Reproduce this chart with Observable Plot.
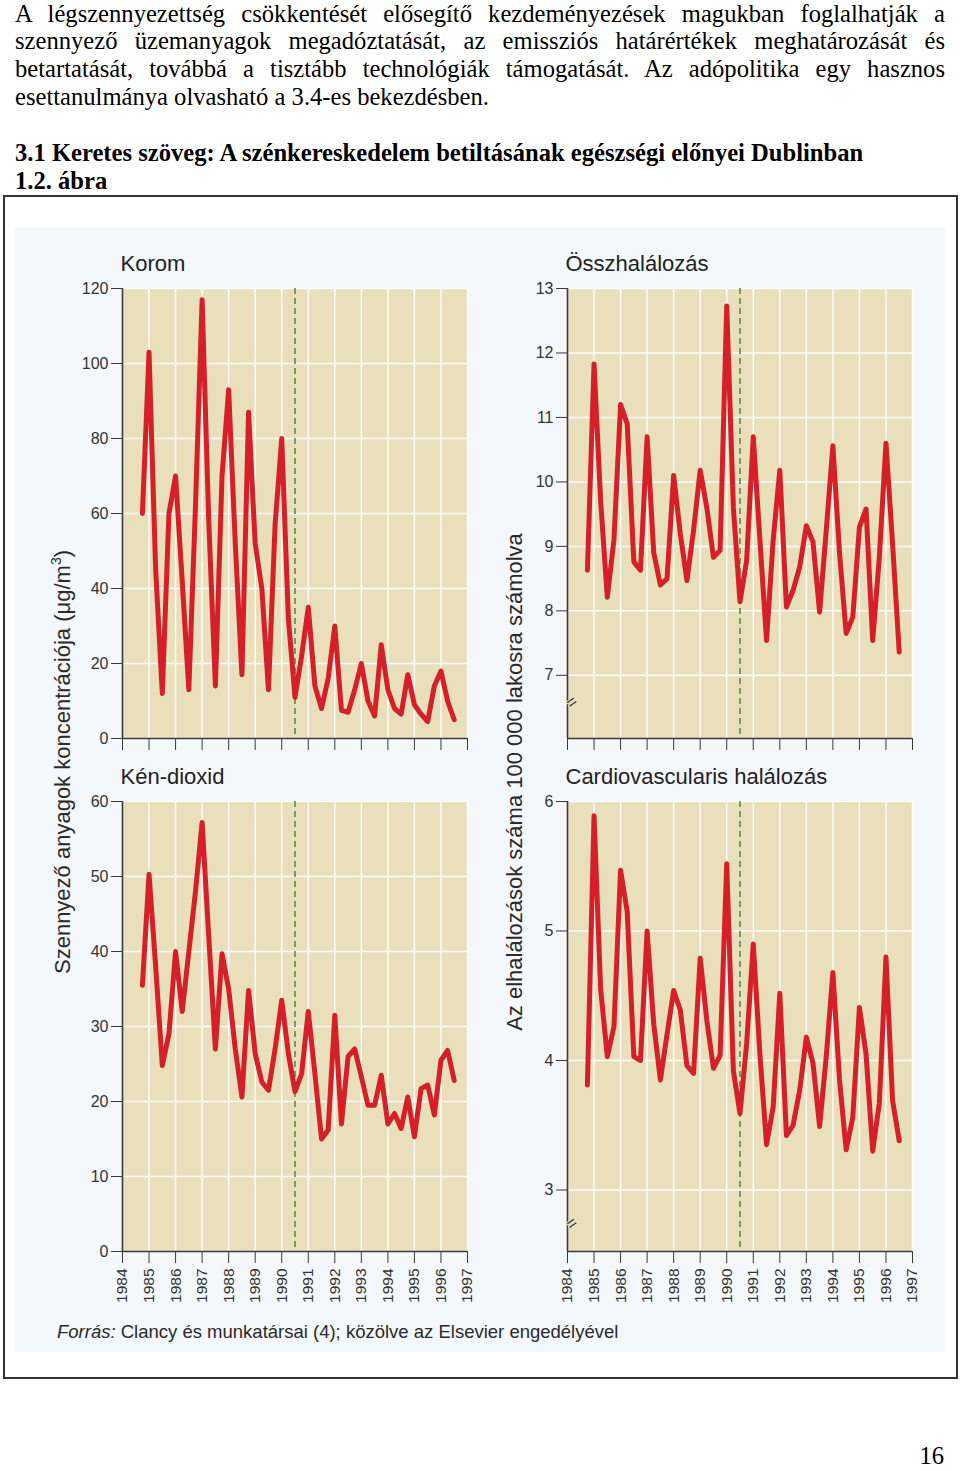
<!DOCTYPE html>
<html>
<head>
<meta charset="utf-8">
<script src="https://cdn.jsdelivr.net/npm/d3@7"></script>
<script src="https://cdn.jsdelivr.net/npm/@observablehq/plot@0.6"></script>
<style>
  html, body { margin: 0; padding: 0; background: #ffffff; }
  #page { position: relative; width: 960px; height: 1471px; overflow: hidden; background: #ffffff; }
  .serif { position: absolute; font-family: "Liberation Serif", "Times New Roman", serif; color: #000; font-size: 24.6px; line-height: 28px; white-space: nowrap; }
  .just { left: 15px; width: 930px; text-align: justify; text-align-last: justify; white-space: normal; }
  .bold { font-weight: bold; }
  #box { position: absolute; left: 3px; top: 195px; width: 951px; height: 1180px; border: 2px solid #333; }
  #chartbg { position: absolute; left: 15px; top: 227px; width: 930px; height: 1125px; background: #f4f7fb; }
  .panel { position: absolute; }
  .ylab { position: absolute; font-family: "Liberation Sans", Arial, sans-serif; font-size: 22px; color: #2a2a2a; white-space: nowrap; transform: translate(-50%, -50%) rotate(-90deg); }
  .ylab sup { font-size: 14px; }
  #caption { position: absolute; left: 57px; top: 1321px; font-family: "Liberation Sans", Arial, sans-serif; font-size: 18.5px; color: #2a2a2a; white-space: nowrap; }
  #pageno { position: absolute; right: 16px; top: 1448px; line-height: 16px; }
</style>
</head>
<body>
<div id="page">
  <div class="serif just" style="top:0px">A légszennyezettség csökkentését elősegítő kezdeményezések magukban foglalhatják a</div>
  <div class="serif just" style="top:27px">szennyező üzemanyagok megadóztatását, az emissziós határértékek meghatározását és</div>
  <div class="serif just" style="top:55px">betartatását, továbbá a tisztább technológiák támogatását. Az adópolitika egy hasznos</div>
  <div class="serif" style="top:83px;left:15px">esettanulmánya olvasható a 3.4-es bekezdésben.</div>
  <div class="serif bold" style="top:139px;left:15px">3.1 Keretes szöveg: A szénkereskedelem betiltásának egészségi előnyei Dublinban</div>
  <div class="serif bold" style="top:167px;left:15px">1.2. ábra</div>
  <div id="box"></div>
  <div id="chartbg"></div>
  <div id="p1" class="panel" style="left:62px;top:238px;width:415px"></div>
  <div id="p2" class="panel" style="left:507px;top:238px;width:415px"></div>
  <div id="p3" class="panel" style="left:62px;top:753px;width:415px"></div>
  <div id="p4" class="panel" style="left:507px;top:753px;width:415px"></div>
  <div class="ylab" style="left:62px;top:762px">Szennyező anyagok koncentrációja (μg/m<sup>3</sup>)</div>
  <div class="ylab" style="left:515px;top:782px">Az elhalálozások száma 100 000 lakosra számolva</div>
  <div id="caption"><i>Forrás:</i> Clancy és munkatársai (4); közölve az Elsevier engedélyével</div>
  <div id="pageno" class="serif">16</div>
</div>
<script>
// Quarterly (seasonal) time points, decimal years, Sept 1984 – Aug 1996
const quarters = [
  1984.75, 1985.00, 1985.25, 1985.50, 1985.75, 1986.00, 1986.25, 1986.50,
  1986.75, 1987.00, 1987.25, 1987.50, 1987.75, 1988.00, 1988.25, 1988.50,
  1988.75, 1989.00, 1989.25, 1989.50, 1989.75, 1990.00, 1990.25, 1990.50,
  1990.75, 1991.00, 1991.25, 1991.50, 1991.75, 1992.00, 1992.25, 1992.50,
  1992.75, 1993.00, 1993.25, 1993.50, 1993.75, 1994.00, 1994.25, 1994.50,
  1994.75, 1995.00, 1995.25, 1995.50, 1995.75, 1996.00, 1996.25, 1996.50
];
const years = [1984, 1985, 1986, 1987, 1988, 1989, 1990, 1991, 1992, 1993, 1994, 1995, 1996, 1997];
const banDate = [1990.5];

// Korom (black smoke), µg/m3
const korom = [60,103,45,12, 60,70,42,13, 62,117,58,14, 70,93,52,17, 87,52,40,13, 57,80,32,11,
               22,35,14,8, 16,30,7.5,7, 13,20,10,6, 25,13,8,6.5, 17,9,6.5,4.5, 14,18,10,5];
// Kén-dioxid (SO2), µg/m3
const kendioxid = [35.5,50.3,38,24.8, 29,40,32,40, 48,57.2,42,27, 39.7,35,27,20.6, 34.8,26.4,22.6,21.5,
                   27,33.5,26.4,21.3, 23.7,32,23.7,15, 16.2,31.5,17,26, 27,23.3,19.5,19.5,
                   23.5,17,18.4,16.4, 20.6,15.3,21.7,22.2, 18.2,25.5,26.8,22.8];
// Összhalálozás, per 100 000
const osszhalalozas = [8.63,11.83,9.7,8.21, 9.1,11.2,10.9,8.76, 8.63,10.7,8.9,8.4, 8.5,10.1,9.2,8.47,
                       9.25,10.18,9.6,8.83, 8.94,12.73,9.6,8.14, 8.78,10.7,9.1,7.54, 9.1,10.18,8.06,8.32,
                       8.68,9.32,9.07,7.98, 9.25,10.56,8.9,7.65, 7.9,9.3,9.58,7.54, 8.83,10.6,9.04,7.36];
// Cardiovascularis halálozás, per 100 000
const cardio = [3.81,5.89,4.55,4.03, 4.26,5.47,5.15,4.03, 4.0,5.0,4.28,3.85, 4.2,4.54,4.39,3.96,
                3.9,4.79,4.31,3.94, 4.04,5.52,3.92,3.59, 4.13,4.9,4.05,3.35, 3.64,4.52,3.42,3.5,
                3.77,4.18,3.98,3.49, 4.03,4.68,3.85,3.31, 3.56,4.41,4.05,3.3, 3.67,4.8,3.69,3.38];

const titles = ["Korom", "Összhalálozás", "Kén-dioxid", "Cardiovascularis halálozás"];
const yDomains = [[0, 120], [6.02, 13], [0, 60], [2.525, 6]];
const yTicks = [[0,20,40,60,80,100,120], [7,8,9,10,11,12,13], [0,10,20,30,40,50,60], [3,4,5,6]];
const axisBreaks = [[], [6.54], [], [2.72]];

const TAN = "#e9dfbb";
const RED = "#d5202a";
const AXIS = "#3a3a3a";
const GREEN = "#5b8b45";

function panel(values, idx, bottom) {
  const rows = quarters.map((q, i) => ({date: q, value: values[i]}));
  const marginTop = bottom ? 48 : 50;
  const marginBottom = bottom ? 56 : 14;
  return Plot.plot({
    width: 415,
    height: marginTop + 450 + marginBottom,
    marginLeft: 60, marginRight: 10, marginTop, marginBottom,
    x: {domain: [1984, 1997]},
    y: {domain: yDomains[idx]},
    style: {fontFamily: "'Liberation Sans', Arial, sans-serif", fontSize: "16px", color: "#333", background: "transparent", maxWidth: "none", overflow: "visible"},
    marks: [
      Plot.frame({fill: TAN, stroke: null}),
      Plot.gridX(years, {stroke: "#ffffff", strokeOpacity: 0.85, strokeWidth: 1.5}),
      Plot.gridY(yTicks[idx], {stroke: "#ffffff", strokeOpacity: 0.85, strokeWidth: 1.5}),
      Plot.ruleX(banDate, {stroke: GREEN, strokeWidth: 1.6, strokeDasharray: "6,4"}),
      Plot.line(rows, {x: "date", y: "value", stroke: RED, strokeWidth: 5, strokeLinejoin: "round", strokeLinecap: "round"}),
      Plot.axisX({ticks: years, tickSize: 12, tickPadding: 5, tickRotate: -90, fontSize: 15.5,
                  stroke: AXIS, label: null, tickFormat: bottom ? (d => String(d)) : (() => "")}),
      Plot.axisY({ticks: yTicks[idx], tickSize: 11, tickPadding: 3, stroke: AXIS, label: null, fontSize: 16,
                  tickFormat: d => String(d)}),
      Plot.ruleX([years[0]], {stroke: AXIS, strokeWidth: 1.6}),
      Plot.ruleY([yDomains[idx][0]], {stroke: AXIS, strokeWidth: 1.6}),
      Plot.text(axisBreaks[idx], {y: d => d, frameAnchor: "left", text: () => "=", rotate: -35, fontSize: 17,
                                   fill: AXIS, stroke: TAN, strokeWidth: 2}),
      Plot.text([titles[idx]], {frameAnchor: "top-left", lineAnchor: "middle", dx: -2, dy: -24.5, textAnchor: "start",
                                fontSize: 22, fill: "#222"})
    ]
  });
}

document.getElementById("p1").append(panel(korom, 0, false));
document.getElementById("p2").append(panel(osszhalalozas, 1, false));
document.getElementById("p3").append(panel(kendioxid, 2, true));
document.getElementById("p4").append(panel(cardio, 3, true));
</script>
</body>
</html>
